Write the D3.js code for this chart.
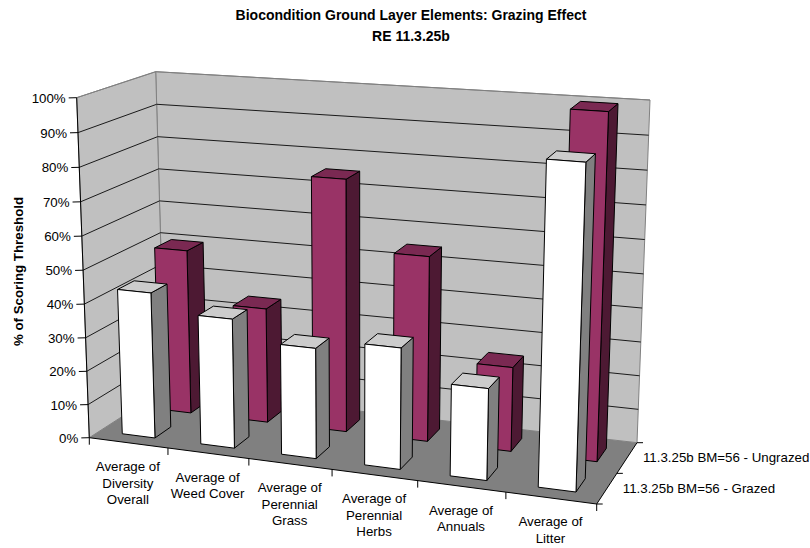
<!DOCTYPE html>
<html><head><meta charset="utf-8"><style>html,body{margin:0;background:#fff}svg{display:block}text{font-family:"Liberation Sans",Arial,sans-serif;fill:#000}</style>
<script src="https://cdnjs.cloudflare.com/ajax/libs/d3/7.8.5/d3.min.js"></script></head><body>
<svg id="c" width="810" height="548"></svg>
<script>
const categories=[["Average of","Diversity","Overall"],["Average of","Weed Cover"],["Average of","Perennial","Grass"],["Average of","Perennial","Herbs"],["Average of","Annuals"],["Average of","Litter"]];
const seriesNames=["11.3.25b BM=56 - Grazed","11.3.25b BM=56 - Ungrazed"];
const grazed=[43.4,38.2,32.3,35.1,26.3,91.3];
const ungrazed=[50.1,34.7,75.5,54.9,24.8,100];
const yTicks=[0,10,20,30,40,50,60,70,80,90,100];
const titleLines=["Biocondition Ground Layer Elements: Grazing Effect","RE 11.3.25b"];
const yTitle="% of Scoring Threshold";

// perspective box corners: f/b front/back, l/r left/right, b/t bottom/top
const box={flb:[89.3,437.7],flt:[76.7,97.7],frb:[596.7,504],frt:[608.7,137],blb:[165,389],blt:[155.7,71.7],brb:[637,442.7],brt:[650,100]};
const warp=(t,k)=>t/(t+k*(1-t));
const idx=categories.map((_,i)=>i);
const xBand=d3.scaleBand().domain(idx).range([0,1]).paddingInner(.58).paddingOuter(.29);
const zBand=d3.scaleBand().domain([0,1]).range([0,1]).paddingInner(.56).paddingOuter(.28);
const y=d3.scaleLinear().domain([0,100]).range([0,1]);
const lerp=(a,b,t)=>[a[0]+(b[0]-a[0])*t,a[1]+(b[1]-a[1])*t];
function P(t,val,w){
  const u=warp(t,1.09),v=warp(y(val),1.03);
  const fb=lerp(box.flb,box.frb,u),ft=lerp(box.flt,box.frt,u),bb=lerp(box.blb,box.brb,u),bt=lerp(box.blt,box.brt,u);
  return lerp(lerp(fb,bb,w),lerp(ft,bt,w),v);
}
const svg=d3.select("#c");
const path=pts=>"M"+pts.map(p=>p[0].toFixed(2)+","+p[1].toFixed(2)).join("L")+"Z";
const line=(a,b,c,g=svg)=>g.append("line").attr("x1",a[0]).attr("y1",a[1]).attr("x2",b[0]).attr("y2",b[1]).attr("stroke",c).attr("stroke-width",1);

// walls + floor
svg.append("path").attr("d",path([P(0,0,1),P(1,0,1),P(1,100,1),P(0,100,1)])).attr("fill","#c0c0c0").attr("stroke","#808080");
svg.append("path").attr("d",path([P(0,0,0),P(0,0,1),P(0,100,1),P(0,100,0)])).attr("fill","#c0c0c0").attr("stroke","#808080");
svg.append("path").attr("d",path([P(0,0,0),P(1,0,0),P(1,0,1),P(0,0,1)])).attr("fill","#808080");
yTicks.slice(1).forEach(d=>{
  const c=d==100?"#808080":"#1a1a1a";
  line(P(0,d,0),P(0,d,1),c);line(P(0,d,1),P(1,d,1),c);
});
// axes
line(P(0,0,0),P(0,100,0),"#000");
line(P(0,0,0),P(1,0,0),"#000");
line(P(1,0,0),P(1,0,1),"#000");
yTicks.forEach(d=>{
  const p=P(0,d,0);
  line(p,[p[0]-8,p[1]+.2],"#000");
  svg.append("text").attr("x",p[0]-11).attr("y",p[1]+5).attr("text-anchor","end").attr("font-size",13.3).text(d+"%");
});
idx.concat([6]).forEach(i=>{const p=P(i/6,0,0);line(p,[p[0],p[1]+7],"#000");});
[0,.5,1].forEach(w=>{const p=P(1,0,w);line(p,[p[0]+6,p[1]],"#000");});

// bars
const bar=(i,r,val,cols)=>{
  const x0=xBand(i),x1=x0+xBand.bandwidth(),z0=zBand(r),z1=z0+zBand.bandwidth();
  const g=svg.append("g").attr("stroke","#000").attr("stroke-width",1).attr("stroke-linejoin","round");
  g.append("path").attr("d",path([P(x1,0,z0),P(x1,0,z1),P(x1,val,z1),P(x1,val,z0)])).attr("fill",cols[1]);
  g.append("path").attr("d",path([P(x0,val,z0),P(x1,val,z0),P(x1,val,z1),P(x0,val,z1)])).attr("fill",cols[2]);
  g.append("path").attr("d",path([P(x0,0,z0),P(x1,0,z0),P(x1,val,z0),P(x0,val,z0)])).attr("fill",cols[0]);
};
ungrazed.forEach((v,i)=>bar(i,1,v,["#993366","#4d1933","#7a2952"]));
grazed.forEach((v,i)=>bar(i,0,v,["#ffffff","#808080","#cccccc"]));

// category labels
categories.forEach((lines,i)=>{
  const c=P((i+.5)/6,0,0);
  const t=svg.append("text").attr("text-anchor","middle").attr("font-size",13.3);
  lines.forEach((s,j)=>t.append("tspan").attr("x",c[0]-.5).attr("y",c[1]+28.4+j*16.3).text(s));
});
// series labels
seriesNames.forEach((s,i)=>{
  const p=P(1,0,.25+i*.5);
  svg.append("text").attr("x",p[0]+16).attr("y",p[1]+4).attr("font-size",13.3).text(s);
});
// titles
titleLines.forEach((s,i)=>svg.append("text").attr("x",411).attr("y",20+i*20.5).attr("text-anchor","middle").attr("font-size",14).attr("font-weight","bold").text(s));
svg.append("text").attr("transform","translate(22.5,271.5) rotate(-90)").attr("text-anchor","middle").attr("font-size",13.3).attr("font-weight","bold").text(yTitle);
</script></body></html>
